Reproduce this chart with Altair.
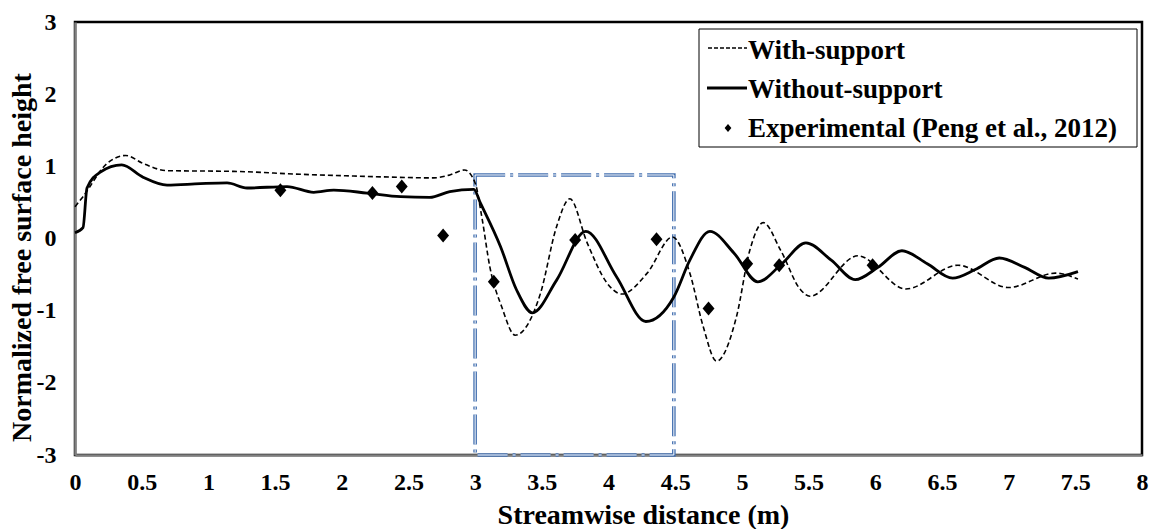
import altair as alt
import pandas as pd

# --- data ---
with_x = [0, 0.06, 0.24, 0.38, 0.51, 0.69, 1.19, 1.69, 2.19, 2.69, 2.81, 2.92, 3.0, 3.05, 3.11, 3.2, 3.3,
          3.49, 3.61, 3.71, 3.84, 3.99, 4.1, 4.29, 4.48, 4.61, 4.71, 4.81, 4.96, 5.06, 5.16, 5.29, 5.44,
          5.51, 5.87, 6.23, 6.62, 7.0, 7.35, 7.52]
with_y = [0.44, 0.58, 1.04, 1.15, 1.04, 0.94, 0.93, 0.89, 0.86, 0.84, 0.88, 0.95, 0.77, 0.3, -0.39, -0.95,
          -1.34, -0.76, 0.16, 0.55, -0.06, -0.62, -0.77, -0.48, 0.02, -0.48, -1.22, -1.7, -1.08, -0.16,
          0.22, -0.16, -0.71, -0.8, -0.24, -0.7, -0.37, -0.68, -0.48, -0.56]

without_x = [0, 0.06, 0.09, 0.19, 0.35, 0.51, 0.69, 0.94, 1.14, 1.29, 1.59, 1.79, 1.94, 2.19, 2.44, 2.66,
             2.81, 2.99, 3.04, 3.19, 3.31, 3.43, 3.61, 3.83, 4.06, 4.28, 4.49, 4.61, 4.76, 4.94, 5.12,
             5.30, 5.48, 5.67, 5.85, 6.02, 6.2, 6.39, 6.58, 6.75, 6.93, 7.12, 7.3, 7.52]
without_y = [0.08, 0.15, 0.7, 0.92, 1.02, 0.85, 0.74, 0.76, 0.77, 0.7, 0.72, 0.64, 0.67, 0.63, 0.58, 0.57,
             0.65, 0.68, 0.49, -0.11, -0.71, -1.03, -0.58, 0.1, -0.53, -1.15, -0.81, -0.3, 0.1, -0.2, -0.6,
             -0.35, -0.06, -0.3, -0.57, -0.4, -0.17, -0.35, -0.55, -0.43, -0.27, -0.4, -0.55, -0.46]

exp_x = [1.54, 2.23, 2.45, 2.76, 3.14, 3.75, 4.36, 4.75, 5.04, 5.28, 5.98]
exp_y = [0.67, 0.63, 0.72, 0.04, -0.6, -0.02, -0.01, -0.97, -0.35, -0.37, -0.37]

box_x = [3.0]
box_x2 = [4.49]
box_y = [-3.0]
box_y2 = [0.88]

series_names = ["With-support", "Without-support", "Experimental (Peng et al., 2012)"]
x_ticks = [0, 0.5, 1, 1.5, 2, 2.5, 3, 3.5, 4, 4.5, 5, 5.5, 6, 6.5, 7, 7.5, 8]
y_ticks = [-3, -2, -1, 0, 1, 2, 3]

# --- tables ---
with_df = pd.DataFrame({"x": with_x, "y": with_y, "series": series_names[0]})
without_df = pd.DataFrame({"x": without_x, "y": without_y, "series": series_names[1]})
exp_df = pd.DataFrame({"x": exp_x, "y": exp_y, "series": series_names[2]})
box_df = pd.DataFrame({"x": box_x, "x2": box_x2, "y": box_y, "y2": box_y2})
legend_df = pd.DataFrame({"label": series_names})

FONT = "Liberation Serif"
DIAMOND_PATH = "M0,-0.2L0.17,0L0,0.2L-0.17,0Z"

xscale = alt.Scale(domain=[0, 8], nice=False, zero=False)
yscale = alt.Scale(domain=[-3, 3], nice=False, zero=False)

x_axis = alt.Axis(values=x_ticks, labelExpr="'' + datum.value", title="Streamwise distance (m)",
                  grid=False, ticks=False, labelFlush=False, labelPadding=15,
                  titleX=568, titleY=68, titleBaseline="alphabetic", titleAnchor="middle")
y_axis = alt.Axis(values=y_ticks, labelExpr="'' + datum.value", title="Normalized free surface height",
                  grid=False, ticks=False, labelFlush=False, labelPadding=19,
                  titleX=-53, titleY=235, titleBaseline="middle", titleAngle=270)

X = alt.X("x:Q", scale=xscale, axis=x_axis)
Y = alt.Y("y:Q", scale=yscale, axis=y_axis)

with_line = alt.Chart(with_df).mark_line(interpolate="monotone", color="black", strokeWidth=1.6,
                                         strokeDash=[5, 3]).encode(x=X, y=Y)
without_line = alt.Chart(without_df).mark_line(interpolate="monotone", color="black",
                                               strokeWidth=2.8).encode(x=X, y=Y)
points = alt.Chart(exp_df).mark_point(shape=DIAMOND_PATH, filled=True, color="black", size=4900,
                                      opacity=1).encode(x=X, y=Y)

box_outer = alt.Chart(box_df).mark_rect(fill=None, stroke="#4470b0", strokeWidth=3.6,
                                        strokeDash=[30, 5, 3, 5]).encode(
    x=alt.X("x:Q", scale=xscale), x2="x2:Q", y=alt.Y("y:Q", scale=yscale), y2="y2:Q")
box_inner = alt.Chart(box_df).mark_rect(fill=None, stroke="white", strokeWidth=1.0,
                                        strokeDash=[30, 5, 3, 5]).encode(
    x=alt.X("x:Q", scale=xscale), x2="x2:Q", y=alt.Y("y:Q", scale=yscale), y2="y2:Q")

# --- legend (drawn in the plot's pixel frame) ---
leg_base = alt.Chart(legend_df)
leg_box = leg_base.transform_filter(alt.datum.label == series_names[0]).mark_rect(
    fill="white", stroke="black", strokeWidth=1).encode(
    x=alt.value(624), x2=alt.value(1062), y=alt.value(7), y2=alt.value(125))
leg_dash = leg_base.transform_filter(alt.datum.label == series_names[0]).mark_rule(
    color="black", strokeWidth=1.6, strokeDash=[4, 2]).encode(
    x=alt.value(633), x2=alt.value(672), y=alt.value(26))
leg_solid = leg_base.transform_filter(alt.datum.label == series_names[1]).mark_rule(
    color="black", strokeWidth=2.8).encode(
    x=alt.value(632), x2=alt.value(672), y=alt.value(66))
leg_diamond = leg_base.transform_filter(alt.datum.label == series_names[2]).mark_point(
    shape=DIAMOND_PATH, filled=True, color="black", size=1600, opacity=1).encode(
    x=alt.value(653), y=alt.value(106))

def leg_text(i, ypx):
    return leg_base.transform_filter(alt.datum.label == series_names[i]).mark_text(
        font=FONT, fontSize=27, fontWeight="bold", color="black", align="left",
        baseline="alphabetic").encode(text="label:N", x=alt.value(673), y=alt.value(ypx))

chart = alt.layer(
    box_outer, box_inner, with_line, without_line, points,
    leg_box, leg_dash, leg_solid, leg_diamond,
    leg_text(0, 37), leg_text(1, 76), leg_text(2, 115),
).properties(
    width=1067, height=433,
    autosize=alt.AutoSizeParams(type="none"),
    padding={"left": 75, "top": 22, "right": 8, "bottom": 74},
    background="white",
).configure_view(
    stroke="black", strokeWidth=2.5
).configure_axis(
    labelFont=FONT, labelFontSize=24, labelFontWeight="bold", labelColor="black",
    titleFont=FONT, titleFontSize=28, titleFontWeight="bold", titleColor="black",
    domainColor="#808080", domainWidth=2.5,
)

chart.save("out.html", embed_options={"renderer": "svg", "actions": False})
